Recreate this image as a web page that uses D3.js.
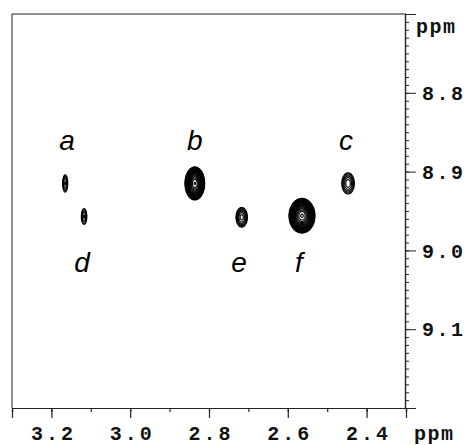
<!DOCTYPE html>
<html><head><meta charset="utf-8">
<script src="https://cdn.jsdelivr.net/npm/d3@7"></script>
<style>
html,body{margin:0;padding:0;background:#fff;}
svg{display:block;}
</style></head>
<body>
<svg id="chart" width="469" height="445"></svg>
<script>
// ---- data ----
const xDomain = [3.30, 2.30];          // ppm (F2), reversed
const yDomain = [8.70, 9.20];          // ppm (F1), increasing downward
const xTicks = [3.2, 3.0, 2.8, 2.6, 2.4];
const xTickLabels = ["3.2", "3.0", "2.8", "2.6", "2.4"];
const yTicks = [8.8, 8.9, 9.0, 9.1];
const yTickLabels = ["8.8", "8.9", "9.0", "9.1"];
const peakLabels = ["a", "b", "c", "d", "e", "f"];
const peakX = [3.165, 2.836, 2.447, 3.117, 2.717, 2.564];
const peakY = [8.915, 8.915, 8.915, 8.957, 8.958, 8.956];
const peakWidth = [0.013, 0.050, 0.032, 0.014, 0.029, 0.066];   // outer contour extent (ppm)
const peakHeight = [0.022, 0.042, 0.027, 0.020, 0.025, 0.044];  // outer contour extent (ppm)
const peakIntensity = [3, 150, 4.5, 3, 5.5, 200];
const labelX = [3.160, 2.836, 2.452, 3.122, 2.724, 2.572];
const labelY = [8.873, 8.873, 8.873, 9.027, 9.027, 9.027];

// ---- layout ----
const L = 12, R = 406, T = 14, B = 408;
const svg = d3.select("#chart");
const x = d3.scaleLinear().domain(xDomain).range([L, R]);
const y = d3.scaleLinear().domain(yDomain).range([T, B]);

// ---- contour grid ----
const res = 2;
const W = Math.round((R - L) * res), H = Math.round((B - T) * res);
const gx = d3.scaleLinear().domain([0, W]).range(xDomain);
const gy = d3.scaleLinear().domain([0, H]).range(yDomain);
const base = 1, factor = 1.3;
const peaks = peakX.map((cx, i) => {
  const A = peakIntensity[i];
  const k = Math.sqrt(2 * Math.log(A / base));
  return {cx, cy: peakY[i], A, sx: (peakWidth[i] / 2) / k, sy: (peakHeight[i] / 2) / k};
});
const values = new Float64Array(W * H);
for (let j = 0; j < H; j++) {
  const py = gy(j + 0.5);
  for (let i = 0; i < W; i++) {
    const px = gx(i + 0.5);
    let v = 0;
    for (const p of peaks) {
      const dx = (px - p.cx) / p.sx, dy = (py - p.cy) / p.sy;
      const e = 0.5 * (dx * dx + dy * dy);
      if (e < 30) v += p.A * Math.exp(-e);
    }
    values[j * W + i] = v;
  }
}
const thresholds = d3.range(0, 26).map(k => base * Math.pow(factor, k));
const contours = d3.contours().size([W, H]).thresholds(thresholds)(values);
const proj = d3.geoTransform({
  point: function(px, py) { this.stream.point(x(gx(px)), y(gy(py))); }
});
const path = d3.geoPath(proj);
svg.append("g")
  .selectAll("path")
  .data(contours)
  .join("path")
  .attr("d", path)
  .attr("fill", "none")
  .attr("stroke", "#000")
  .attr("stroke-width", 1.1);

// ---- frame ----
svg.append("line").attr("x1", L).attr("x2", R).attr("y1", T).attr("y2", T)
  .attr("stroke", "#222").attr("stroke-width", 1.2);
svg.append("line").attr("x1", L).attr("x2", L).attr("y1", T).attr("y2", B)
  .attr("stroke", "#444").attr("stroke-width", 1.2);

// ---- axes ----
const monoFont = "'Liberation Mono', 'Courier New', monospace";
// bottom axis
const xMinor = d3.range(3.3, 2.25, -0.1).map(v => +v.toFixed(2));
const bottom = svg.append("g").attr("transform", `translate(0,${B})`)
  .call(d3.axisBottom(x).tickValues(xMinor).tickSize(4).tickFormat(""));
bottom.append("g")
  .call(d3.axisBottom(x).tickValues(xTicks).tickSize(10).tickFormat((d, i) => xTickLabels[i]));
bottom.selectAll(".domain").attr("stroke", "#222").attr("stroke-width", 1.2);
bottom.selectAll("line").attr("stroke", "#222").attr("stroke-width", 1.2);
bottom.selectAll("text")
  .attr("font-family", monoFont).attr("font-weight", "bold").attr("font-size", 20)
  .attr("letter-spacing", "3px").attr("fill", "#111")
  .attr("y", 18).attr("dy", 0).attr("dx", 1.5).attr("dominant-baseline", "auto")
  .attr("transform", "translate(0,14)");

// right axis
const yMinor = d3.range(71, 120).map(v => +(v / 100 + 8).toFixed(2));
const right = svg.append("g").attr("transform", `translate(${R - 1},0)`)
  .call(d3.axisRight(y).tickValues(yMinor).tickSize(4).tickFormat(""));
right.append("g")
  .call(d3.axisRight(y).tickValues(yTicks).tickSize(11).tickFormat((d, i) => yTickLabels[i]));
right.selectAll(".domain").attr("stroke", "#222").attr("stroke-width", 1.2);
right.selectAll("line").attr("stroke", "#222").attr("stroke-width", 1);
right.selectAll("text")
  .attr("font-family", monoFont).attr("font-weight", "bold").attr("font-size", 20)
  .attr("letter-spacing", "2.5px").attr("fill", "#111")
  .attr("x", 17).attr("dy", "0.33em");

// axis unit labels
svg.append("text").attr("x", 416).attr("y", 33).text("ppm")
  .attr("font-family", monoFont).attr("font-weight", "bold").attr("font-size", 20)
  .attr("letter-spacing", "1.5px").attr("fill", "#111");
svg.append("text").attr("x", 414).attr("y", 440).text("ppm")
  .attr("font-family", monoFont).attr("font-weight", "bold").attr("font-size", 20)
  .attr("letter-spacing", "1.5px").attr("fill", "#111");

// peak labels
svg.append("g").selectAll("text")
  .data(peakLabels)
  .join("text")
  .attr("x", (d, i) => x(labelX[i]))
  .attr("y", (d, i) => y(labelY[i]))
  .attr("text-anchor", "middle")
  .attr("font-family", "'Liberation Sans', Arial, sans-serif")
  .attr("font-style", "italic")
  .attr("font-size", 28)
  .attr("fill", "#000")
  .text(d => d);
</script>
</body></html>
